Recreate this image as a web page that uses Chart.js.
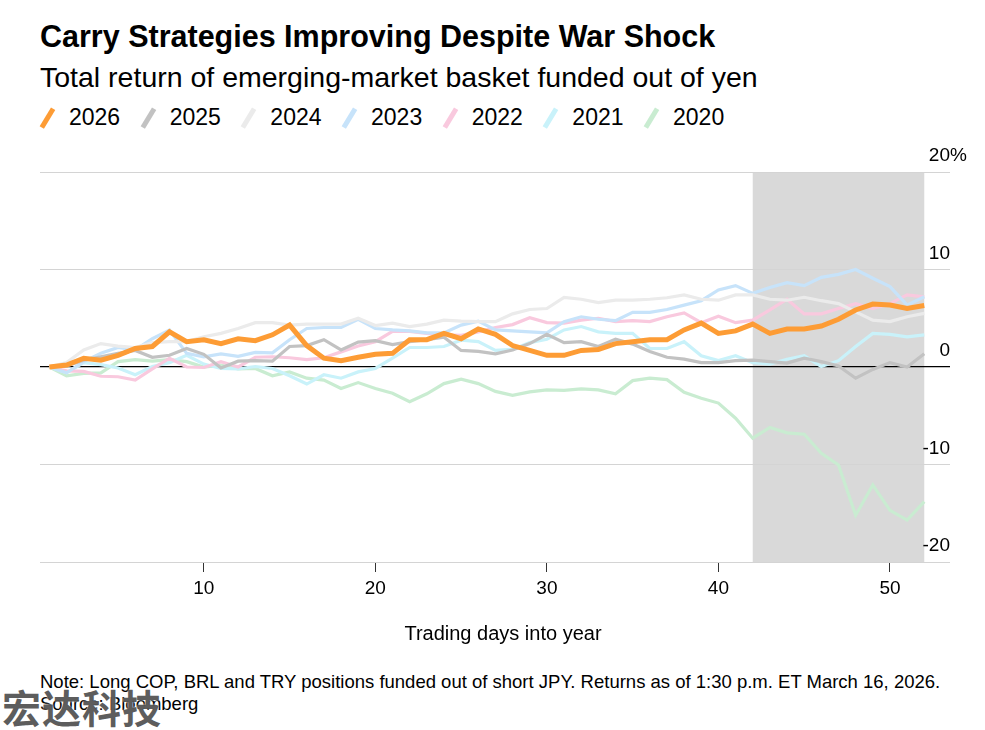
<!DOCTYPE html>
<html>
<head>
<meta charset="utf-8">
<script src="https://cdn.jsdelivr.net/npm/chart.js@4.4.1/dist/chart.umd.min.js"></script>
<style>
  html, body { margin: 0; padding: 0; background: #fff; }
  body { width: 985px; height: 730px; position: relative; overflow: hidden; font-family: "Liberation Sans", Arial, sans-serif; color: #000; }
  .abs { position: absolute; white-space: nowrap; }
  #title { left: 40px; top: 21px; font-size: 30.5px; line-height: 30.5px; font-weight: bold; }
  #subtitle { left: 40px; top: 63px; font-size: 28.5px; line-height: 28.5px; }
  #legend { left: 40px; top: 106px; font-size: 23px; line-height: 23px; display: flex; }
  .item { display: flex; align-items: center; margin-right: 20.5px; }
  .mark { width: 14px; height: 22px; margin-right: 15px; position: relative; }
  .mark span { position: absolute; left: 5px; top: 0px; width: 4.5px; height: 22px; transform: rotate(31deg); }
  #chartbox { left: 0; top: 140px; width: 985px; height: 520px; }
  #xtitle { left: 303px; width: 400px; top: 621px; text-align: center; font-size: 20px; line-height: 24px; }
  #note { left: 40px; top: 671px; font-size: 18.5px; line-height: 22px; }
  #wm { left: 2px; top: 685px; font-family: "Noto Sans CJK SC", sans-serif; font-weight: bold; font-size: 39px; line-height: 42px; color: rgba(40,40,40,0.75); letter-spacing: 1px; text-shadow: 0 0 2px #fff; }
</style>
</head>
<body>
<div id="title" class="abs">Carry Strategies Improving Despite War Shock</div>
<div id="subtitle" class="abs">Total return of emerging-market basket funded out of yen</div>
<div id="legend" class="abs"></div>
<div id="chartbox" class="abs"><canvas id="c"></canvas></div>
<div id="xtitle" class="abs">Trading days into year</div>
<div id="note" class="abs">Note: Long COP, BRL and TRY positions funded out of short JPY. Returns as of 1:30 p.m. ET March 16, 2026.<br>Source: Bloomberg</div>
<div id="wm" class="abs">宏达科技</div>
<script>
const days = [1,2,3,4,5,6,7,8,9,10,11,12,13,14,15,16,17,18,19,20,21,22,23,24,25,26,27,28,29,30,31,32,33,34,35,36,37,38,39,40,41,42,43,44,45,46,47,48,49,50,51,52];
const seriesNames = ["2026","2025","2024","2023","2022","2021","2020"];
const y2026 = [0,0.2,0.9,0.7,1.2,1.9,2.1,3.6,2.6,2.8,2.4,2.9,2.7,3.3,4.3,2.2,0.9,0.65,1.0,1.3,1.4,2.8,2.8,3.45,2.9,3.9,3.35,2.2,1.7,1.2,1.2,1.7,1.8,2.4,2.6,2.8,2.8,3.8,4.5,3.45,3.7,4.4,3.45,3.9,3.9,4.2,4.9,5.85,6.45,6.35,6.0,6.3];
const y2025 = [0,0.1,0.7,1.05,1.4,1.7,1.0,1.2,1.9,1.3,-0.1,0.6,0.65,0.6,2.1,2.2,2.8,1.75,2.55,2.7,2.3,2.6,2.8,3.05,1.7,1.6,1.35,1.75,2.4,3.35,2.5,2.6,2.1,2.85,2.35,1.6,1.0,0.8,0.45,0.45,0.65,0.7,0.55,0.4,0.9,0.55,0.1,-1.15,-0.25,0.45,0.0,1.35];
const y2024 = [0,0.45,1.75,2.4,2.15,2.0,2.5,2.6,2.6,3.1,3.45,3.95,4.55,4.55,4.3,4.4,4.4,4.4,5.0,4.25,4.5,4.15,4.4,4.8,4.7,4.65,4.65,5.45,5.9,6.0,7.15,6.95,6.6,6.85,6.85,6.95,7.1,7.4,6.95,6.85,7.4,7.4,6.95,6.85,7.15,6.8,6.5,5.65,4.8,4.65,5.15,5.5];
const y2023 = [0,-0.6,0.55,1.4,2.0,1.75,2.9,3.8,1.4,1.05,1.35,1.1,1.5,1.45,2.8,3.95,4.05,4.05,4.9,3.95,3.8,3.7,3.5,3.5,4.3,4.7,3.8,3.7,3.6,3.5,4.65,5.15,4.9,4.75,5.6,5.6,5.9,6.35,6.8,7.9,8.35,7.55,8.15,8.65,8.35,9.2,9.5,10.0,9.1,8.25,6.35,7.2];
const y2022 = [0,-0.4,-0.45,-0.95,-1.0,-1.35,-0.2,0.9,0.0,-0.05,0.55,0.0,1.0,1.05,0.95,0.75,0.95,1.55,2.15,2.6,3.65,3.65,3.45,3.3,3.25,3.6,4.05,4.35,5.05,4.55,4.5,4.8,5.0,4.65,4.75,4.65,5.15,5.55,4.55,5.2,4.55,4.8,5.85,6.95,5.45,5.45,6.0,6.5,6.0,6.5,7.4,7.2];
const y2021 = [0,-0.6,0.45,0.25,-0.1,-0.8,0.05,0.45,1.2,0.3,-0.15,-0.2,0.05,-0.15,-0.9,-1.75,-0.8,-1.15,-0.5,-0.15,0.9,2.0,2.0,2.1,2.75,2.6,1.7,1.8,2.5,2.85,3.8,4.15,3.6,3.45,3.45,1.9,1.9,2.6,1.15,0.65,1.15,0.45,0.3,0.8,1.15,0.05,0.65,2.1,3.45,3.35,3.1,3.3];
const y2020 = [0,-0.9,-0.65,-0.6,0.55,0.75,0.6,0.75,0.55,0.0,0.2,-0.2,-0.15,-0.9,-0.5,-1.15,-1.35,-2.2,-1.6,-2.2,-2.7,-3.55,-2.75,-1.7,-1.25,-1.7,-2.5,-2.9,-2.55,-2.35,-2.4,-2.25,-2.35,-2.75,-1.4,-1.15,-1.3,-2.6,-3.2,-3.7,-5.25,-7.3,-6.2,-6.75,-6.9,-8.85,-10.05,-15.2,-12.1,-14.7,-15.7,-13.8];
const seriesValues = [y2026,y2025,y2024,y2023,y2022,y2021,y2020];
const seriesColors = ["#fd9c35","#c2c2c2","#ebebeb","#c7e3fa","#f9c9de","#c9f2fa","#c9ecd1"];
const shadeStart = 42, shadeEnd = 52;
const yTicks = [-20,-10,0,10,20];
const xTicks = [10,20,30,40,50];

// legend
const lg = document.getElementById('legend');
seriesNames.forEach((n, i) => {
  const it = document.createElement('div'); it.className = 'item';
  const mk = document.createElement('div'); mk.className = 'mark';
  const s = document.createElement('span'); s.style.background = seriesColors[i];
  mk.appendChild(s); it.appendChild(mk);
  const t = document.createElement('span'); t.textContent = n; it.appendChild(t);
  lg.appendChild(it);
});

const FONT = '"Liberation Sans", Arial, sans-serif';
const TICK_SIZE = 19;
const shadePlugin = {
  id: 'shade',
  beforeDraw(chart) {
    const {ctx, chartArea, scales} = chart;
    const x0 = scales.x.getPixelForValue(shadeStart), x1 = scales.x.getPixelForValue(shadeEnd);
    ctx.save(); ctx.fillStyle = '#d9d9d9';
    ctx.fillRect(x0, chartArea.top, x1 - x0, chartArea.bottom - chartArea.top);
    ctx.restore();
  },
  afterDraw(chart) {
    const {ctx, scales} = chart;
    const y = scales.y.getPixelForValue(20) - 16;
    ctx.save(); ctx.font = TICK_SIZE + 'px ' + FONT; ctx.fillStyle = '#000';
    ctx.textAlign = 'left'; ctx.textBaseline = 'middle';
    ctx.fillText('%', chart.chartArea.right, y);
    ctx.restore();
  }
};

const datasets = seriesNames.map((n, i) => ({
  label: n,
  data: days.map((d, j) => ({x: d, y: seriesValues[i][j]})),
  borderColor: seriesColors[i],
  backgroundColor: seriesColors[i],
  borderWidth: i === 0 ? 5 : 3.2,
  pointRadius: 0,
  tension: 0,
  borderJoinStyle: 'miter',
  fill: false
}));

new Chart(document.getElementById('c'), {
  type: 'line',
  data: { datasets },
  plugins: [shadePlugin],
  options: {
    responsive: true, maintainAspectRatio: false, animation: false,
    layout: { padding: { left: 40, right: 35, top: 32, bottom: 0 } },
    plugins: { legend: { display: false }, tooltip: { enabled: false } },
    scales: {
      x: {
        type: 'linear', min: 0.45, max: 53.5,
        afterFit: (s) => { s.height = 98; },
        afterBuildTicks: (s) => { s.ticks = xTicks.map(v => ({value: v})); },
        grid: { display: true, drawOnChartArea: false, drawTicks: true, tickLength: 10, color: '#333' },
        border: { display: false },
        ticks: { font: { size: TICK_SIZE, family: FONT }, color: '#000', padding: 5, maxRotation: 0 },
        title: { display: false }
      },
      y: {
        position: 'right', min: -20, max: 20,
        afterFit: (s) => { s.width = 0; },
        afterBuildTicks: (s) => { s.ticks = yTicks.map(v => ({value: v})); },
        grid: { drawTicks: false, color: (c) => c.tick && c.tick.value === 0 ? '#000' : '#d4d4d4', lineWidth: (c) => c.tick && c.tick.value === 0 ? 1.3 : 1 },
        border: { display: false },
        ticks: { mirror: true, padding: 0, labelOffset: -16, font: { size: TICK_SIZE, family: FONT }, color: '#000', callback: (v) => String(v) }
      }
    }
  }
});
</script>
</body>
</html>
